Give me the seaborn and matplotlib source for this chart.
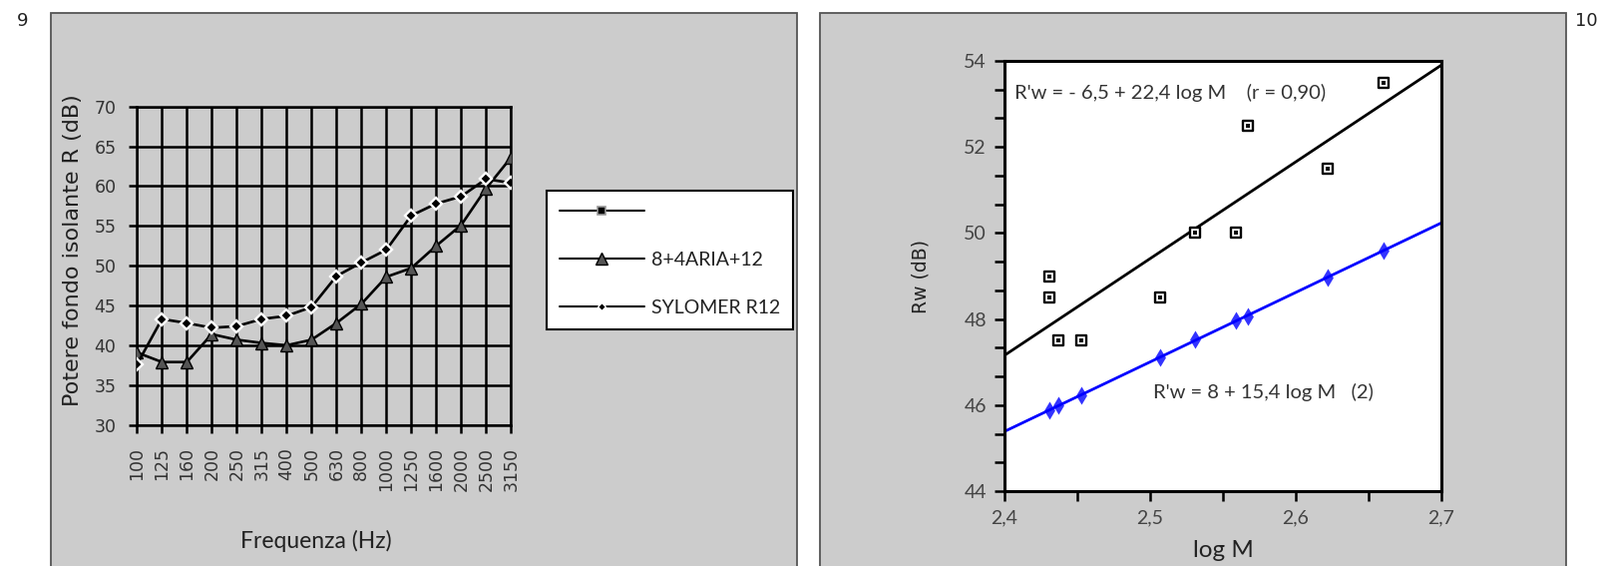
import numpy as np
import pandas as pd
import matplotlib
matplotlib.use("Agg")
import matplotlib.pyplot as plt
import seaborn as sns
from matplotlib.lines import Line2D
from matplotlib.patches import Rectangle
from matplotlib.ticker import MultipleLocator, FuncFormatter

# Grafico 9: potere fonoisolante per banda di terzo d'ottava
frequenze = ['100', '125', '160', '200', '250', '315', '400', '500', '630',
             '800', '1000', '1250', '1600', '2000', '2500', '3150']
aria_8_4_12 = [39.1, 37.9, 37.9, 41.4, 40.7, 40.3, 40.0, 40.7, 42.8, 45.2,
               48.6, 49.7, 52.5, 55.1, 59.7, 63.6]
sylomer_r12 = [37.6, 43.3, 42.8, 42.2, 42.4, 43.3, 43.7, 44.8, 48.7, 50.4,
               52.0, 56.3, 57.8, 58.7, 60.9, 60.4]
etichette_legenda = ['', '8+4ARIA+12', 'SYLOMER R12']

# Grafico 10: Rw misurato e calcolato in funzione di log M
log_m_misure = [2.431, 2.431, 2.437, 2.453, 2.507, 2.531, 2.559, 2.567, 2.622, 2.660]
rw_misure = [49.0, 48.5, 47.5, 47.5, 48.5, 50.0, 50.0, 52.5, 51.5, 53.5]
log_m_calcolo = [2.431, 2.437, 2.453, 2.507, 2.531, 2.559, 2.567, 2.622, 2.660]
rw_calcolo = [45.88, 46.0, 46.23, 47.12, 47.52, 47.97, 48.06, 48.96, 49.6]
testo_regressione = "R'w = - 6,5 + 22,4 log M    (r = 0,90)"
testo_formula = "R'w = 8 + 15,4 log M   (2)"

sns.set_style("ticks")
plt.rcParams['font.family'] = ['DejaVu Sans']
NARROW = ['Lato', 'DejaVu Sans']

W, H = 1604, 567
fig = plt.figure(figsize=(W / 100, H / 100), dpi=100)
fig.patch.set_facecolor('white')

# pannelli grigi
for x0, x1 in [(51, 799), (822, 1570)]:
    fig.add_artist(Rectangle((x0 / W, -0.05), (x1 - x0) / W, (H - 13) / H + 0.05,
                             transform=fig.transFigure, facecolor='#cccccc',
                             edgecolor='#555555', lw=1.3, zorder=-1))
fig.text(23 / W, 1 - 21 / H, '9', ha='center', va='center', fontsize=13, color='#222')
fig.text(1590 / W, 1 - 21 / H, '10', ha='center', va='center', fontsize=13, color='#222')

# ---------------- grafico 9 ----------------
df9 = pd.DataFrame({'Frequenza': frequenze, 'aria': aria_8_4_12, 'sylomer': sylomer_r12})
ax1 = fig.add_axes([137.3 / W, 1 - 425.7 / H, 375 / W, 319 / H])
ax1.set_facecolor('#cccccc')
sns.lineplot(data=df9, x='Frequenza', y='aria', ax=ax1, sort=False, color='black',
             lw=1.9, marker='^', markersize=8.5, markerfacecolor='#555555',
             markeredgecolor='black', markeredgewidth=1.0, zorder=4)
sns.lineplot(data=df9, x='Frequenza', y='sylomer', ax=ax1, sort=False, color='black',
             lw=1.9, marker='D', markersize=6, markerfacecolor='black',
             markeredgecolor='white', markeredgewidth=1.7, zorder=5)
ax1.set_xlim(0, len(frequenze) - 1)
ax1.set_ylim(30, 70)
ax1.yaxis.set_major_locator(MultipleLocator(5))
ax1.grid(True, color='black', lw=1.8)
ax1.set_axisbelow(True)
for s in ax1.spines.values():
    s.set_color('black')
    s.set_linewidth(1.8)
ax1.tick_params(direction='out', length=6, width=1.8, color='black',
                labelsize=12.5, labelcolor='#333333', pad=9)
ax1.tick_params(axis='x', rotation=90, pad=10)
ax1.set_xlabel('Frequenza (Hz)', fontsize=16.5, family=NARROW, color='#222')
ax1.set_ylabel('Potere fondo isolante R (dB)', fontsize=16, color='#222')
ax1.xaxis.set_label_coords(0.48, -0.33)
ax1.yaxis.set_label_coords(-0.145, 0.55)

handles = [
    Line2D([], [], color='black', lw=1.5, marker='s', markersize=6,
           markerfacecolor='black', markeredgecolor='#999999', markeredgewidth=1.2),
    Line2D([], [], color='black', lw=1.5, marker='^', markersize=8,
           markerfacecolor='#555555', markeredgecolor='black'),
    Line2D([], [], color='black', lw=1.5, marker='D', markersize=4,
           markerfacecolor='black', markeredgecolor='white', markeredgewidth=1.0),
]
leg = fig.legend(handles, etichette_legenda, loc='upper left',
                 bbox_to_anchor=(548 / W, 1 - 191 / H), borderaxespad=0,
                 frameon=True, fancybox=False,
                 edgecolor='black', facecolor='white', framealpha=1,
                 handlelength=4.4, handletextpad=0.35, labelspacing=1.6,
                 borderpad=0.65, prop={'family': NARROW, 'size': 14})
leg.get_frame().set_linewidth(1.5)
for t in leg.get_texts():
    t.set_color('#222')

# ---------------- grafico 10 ----------------
ax2 = fig.add_axes([1007 / W, 1 - 492 / H, 438 / W, 431 / H])
ax2.set_facecolor('white')
ax2.set_xlim(2.4, 2.7)
ax2.set_ylim(44, 54)
sns.regplot(x=log_m_misure, y=rw_misure, ax=ax2, ci=None, truncate=False,
            scatter=False, line_kws=dict(color='black', lw=2.0))
sns.regplot(x=log_m_calcolo, y=rw_calcolo, ax=ax2, ci=None, truncate=False,
            marker='d', color='#0000ff',
            scatter_kws=dict(s=85, linewidths=0, zorder=5),
            line_kws=dict(color='#0000ff', lw=2.0))
sns.scatterplot(x=log_m_misure, y=rw_misure, ax=ax2, marker='s', s=60,
                facecolor='white', edgecolor='black', linewidth=1.7, zorder=6)
sns.scatterplot(x=log_m_misure, y=rw_misure, ax=ax2, marker='s', s=5,
                color='black', linewidth=0, zorder=7)
ax2.set_xlim(2.4, 2.7)
ax2.set_ylim(44, 54)
ax2.xaxis.set_major_locator(MultipleLocator(0.1))
ax2.xaxis.set_minor_locator(MultipleLocator(0.05))
ax2.yaxis.set_major_locator(MultipleLocator(2))
ax2.yaxis.set_minor_locator(MultipleLocator(2 / 3))
ax2.xaxis.set_major_formatter(FuncFormatter(lambda v, p: f'{v:.1f}'.replace('.', ',')))
ax2.yaxis.set_major_formatter(FuncFormatter(lambda v, p: f'{v:.0f}'))
for s in ax2.spines.values():
    s.set_color('black')
    s.set_linewidth(2.2)
ax2.tick_params(which='both', direction='out', length=7, width=1.8, color='black')
ax2.tick_params(which='major', labelsize=14, labelcolor='#444444', pad=6)
for lab in ax2.get_xticklabels() + ax2.get_yticklabels():
    lab.set_family(NARROW)
ax2.set_xlabel('log M', fontsize=17.5, family=NARROW, color='#222', labelpad=10)
ax2.set_ylabel('Rw (dB)', fontsize=13.5, color='#222', labelpad=24)
ax2.text(2.407, 53.26, testo_regressione, fontsize=14.5, family=NARROW,
         color='#333', ha='left', va='center')
ax2.text(2.502, 46.3, testo_formula, fontsize=14.5, family=NARROW,
         color='#333', ha='left', va='center')

fig.savefig('out.png', dpi=100)
